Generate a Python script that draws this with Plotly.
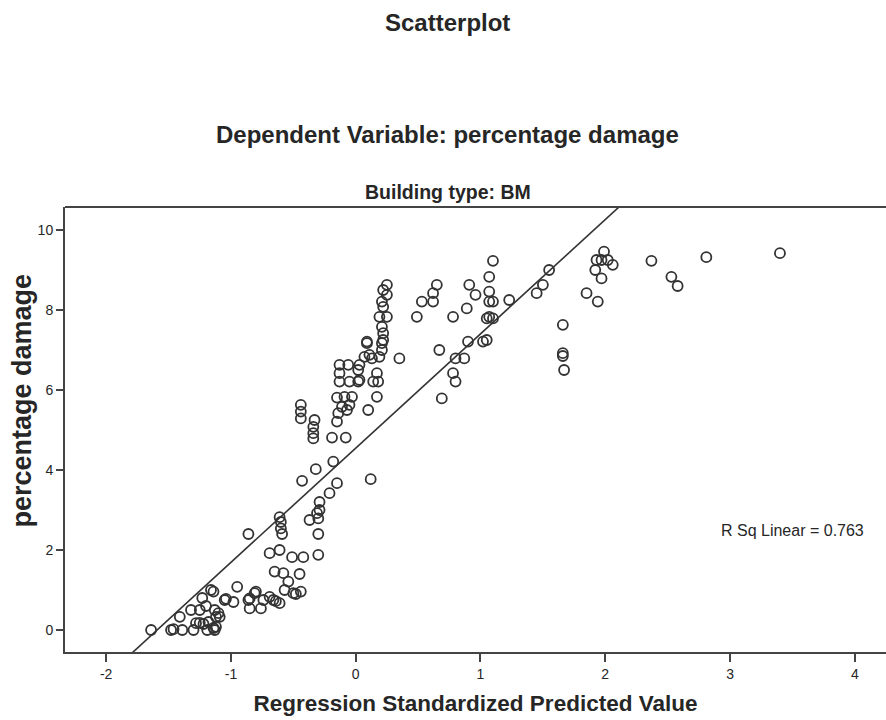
import plotly.graph_objects as go

# Regression Standardized Predicted Value (x) and percentage damage (y)
pred_x = [
    -1.64, -1.48, -1.46, -1.39, -1.41, -1.30, -1.32, -1.25, -1.23, -1.16, -1.14, -1.19, -1.13, -1.14,
    -1.25, -1.28, -1.18, -1.12, -1.13, -1.12, -1.10, -1.09, -1.05, -1.04, -1.20, -1.22, -0.98, -0.95,
    -0.86, -0.85, -0.81, -0.80, -0.85, -0.76, -0.74, -0.69, -0.66, -0.64, -0.61, -0.65, -0.58, -0.54,
    -0.57, -0.50, -0.48, -0.44, -0.45, -0.69, -0.61, -0.51, -0.42, -0.30, -0.86, -0.61, -0.60, -0.60,
    -0.59, -0.37, -0.30, -0.29, -0.31, -0.29, -0.21, -0.15, -0.30, -0.43, -0.32, -0.18, 0.12,
    -0.44, -0.44, -0.44, -0.33, -0.34, -0.34, -0.34, -0.19, -0.08, -0.15, -0.14, -0.11, -0.07, -0.05,
    -0.15, -0.09, -0.03, -0.13, -0.13, -0.13, -0.06, -0.05, 0.02, 0.03, 0.02, 0.03, 0.07, 0.09, 0.09,
    0.11, 0.13, 0.17, 0.18, 0.14, 0.17, 0.10, 0.19, 0.21, 0.21, 0.22, 0.22, 0.21, 0.19, 0.25, 0.22,
    0.21, 0.25, 0.22, 0.25, 0.35, 0.49, 0.53, 0.62, 0.62, 0.65, 0.67, 0.69,
    0.78, 0.80, 0.80, 0.87, 0.90, 1.02, 1.05, 0.78, 0.89, 0.91, 0.96, 1.07, 1.07, 1.10, 1.07, 1.10,
    1.05, 1.07, 1.10, 1.23, 1.45, 1.50, 1.55, 1.66, 1.66, 1.66, 1.67, 1.85, 1.94, 1.97, 1.92, 1.93,
    1.97, 2.02, 2.06, 1.99, 2.37, 2.53, 2.58, 2.81, 3.40,
]
damage_y = [
    0.00, 0.00, 0.02, 0.00, 0.33, 0.00, 0.50, 0.50, 0.80, 1.00, 0.96, 0.00, 0.00, 0.05,
    0.18, 0.17, 0.20, 0.08, 0.50, 0.33, 0.42, 0.33, 0.75, 0.78, 0.60, 0.15, 0.70, 1.08,
    0.75, 0.79, 0.92, 0.96, 0.54, 0.54, 0.75, 0.83, 0.75, 0.72, 0.67, 1.46, 1.42, 1.21,
    1.00, 0.92, 0.90, 0.96, 1.40, 1.92, 2.00, 1.82, 1.82, 1.88, 2.40, 2.82, 2.70, 2.54,
    2.40, 2.75, 2.79, 3.00, 2.92, 3.20, 3.42, 3.67, 2.40, 3.73, 4.02, 4.21, 3.77,
    5.63, 5.46, 5.29, 5.25, 5.08, 4.92, 4.79, 4.81, 4.81, 5.21, 5.42, 5.58, 5.50, 5.63,
    5.81, 5.83, 5.83, 6.21, 6.42, 6.63, 6.63, 6.21, 6.21, 6.25, 6.50, 6.63, 6.83, 7.17, 7.21,
    6.88, 6.79, 6.42, 6.21, 6.21, 5.83, 5.50, 6.83, 7.00, 7.17, 7.25, 7.42, 7.58, 7.83, 7.83, 8.08,
    8.21, 8.38, 8.50, 8.63, 6.79, 7.83, 8.21, 8.21, 8.42, 8.63, 7.00, 5.79,
    6.42, 6.21, 6.79, 6.79, 7.21, 7.21, 7.25, 7.83, 8.04, 8.63, 8.38, 8.46, 8.21, 8.21, 7.83, 7.79,
    7.79, 8.83, 9.23, 8.25, 8.42, 8.63, 9.00, 7.63, 6.92, 6.85, 6.50, 8.42, 8.21, 8.79, 9.00, 9.25,
    9.25, 9.25, 9.13, 9.46, 9.23, 8.83, 8.60, 9.32, 9.42,
]

# Fit line coefficients
fit_intercept = 4.547
fit_slope = 2.857
fit_x = [-2.4, 4.4]
r_sq_text = "R Sq Linear = 0.763"

x_ticks = [-2, -1, 0, 1, 2, 3, 4]
x_tick_labels = ["-2", "-1", "0", "1", "2", "3", "4"]
y_ticks = [0, 2, 4, 6, 8, 10]

FONT = "Arial, 'Liberation Sans', Helvetica, sans-serif"
INK = "#262626"

fig = go.Figure()
fig.add_trace(go.Scatter(
    x=fit_x, y=[fit_intercept + fit_slope * v for v in fit_x],
    mode="lines", line=dict(color="#333333", width=1.6), hoverinfo="skip", showlegend=False,
))
fig.add_trace(go.Scatter(
    x=pred_x, y=damage_y, mode="markers",
    marker=dict(symbol="circle-open", size=10, color="#333333", line=dict(width=1.8, color="#333333")),
    showlegend=False,
))

fig.update_layout(
    width=886, height=720,
    margin=dict(l=65, r=0, t=207, b=68),
    paper_bgcolor="white", plot_bgcolor="white",
    font=dict(family=FONT, color=INK),
    xaxis=dict(
        range=[-2.33, 4.25], tickvals=x_ticks, ticktext=x_tick_labels, ticks="outside", ticklen=8,
        tickwidth=2, tickcolor="#444", showline=True, linecolor="#444", linewidth=2, showgrid=False,
        zeroline=False, tickfont=dict(size=14, color=INK),
        title=dict(text="<b>Regression Standardized Predicted Value</b>", font=dict(size=22.5), standoff=14),
    ),
    yaxis=dict(
        range=[-0.55, 10.575], tickvals=y_ticks, ticks="outside", ticklen=7, tickwidth=2,
        tickcolor="#444", showline=True, linecolor="#444", linewidth=2, showgrid=False,
        zeroline=False, tickfont=dict(size=14, color=INK),
    ),
    shapes=[dict(type="line", xref="paper", yref="paper", x0=0, x1=1, y0=1, y1=1,
                 line=dict(color="#444", width=2))],
    annotations=[
        dict(text="<b>Scatterplot</b>", xref="paper", yref="paper", x=0.4665, y=1.4157,
             showarrow=False, font=dict(size=24), xanchor="center", yanchor="middle"),
        dict(text="<b>Dependent Variable: percentage damage</b>", xref="paper", yref="paper",
             x=0.4665, y=1.1618, showarrow=False, font=dict(size=24), xanchor="center", yanchor="middle"),
        dict(text="<b>Building type: BM</b>", xref="paper", yref="paper", x=0.4665, y=1.0337,
             showarrow=False, font=dict(size=19.5), xanchor="center", yanchor="middle"),
        dict(text="<b>percentage damage</b>", xref="paper", yref="paper", x=-0.0524, y=0.565,
             textangle=-90, showarrow=False, font=dict(size=27), xanchor="center", yanchor="middle"),
        dict(text=r_sq_text, xref="x", yref="y", x=3.50, y=2.5, showarrow=False,
             font=dict(size=16), xanchor="center", yanchor="middle"),
    ],
)

fig.write_html("out.html")
